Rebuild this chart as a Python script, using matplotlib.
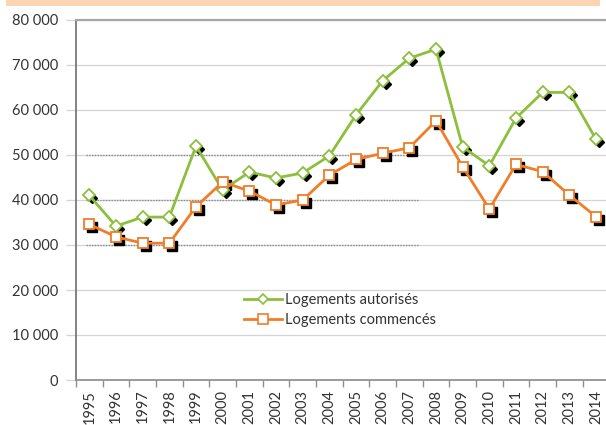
import numpy as np
import matplotlib.pyplot as plt
import matplotlib.transforms as mtransforms
from matplotlib.patches import Rectangle

years = [str(y) for y in range(1995, 2015)]
autorises = [41000, 34200, 36200, 36200, 52000, 42200, 46200, 44900, 46000, 49800,
             58900, 66500, 71500, 73500, 51800, 47600, 58200, 63900, 63900, 53500]
commences = [34600, 31800, 30400, 30400, 38500, 44000, 42000, 38900, 40000, 45500,
             49000, 50400, 51600, 57600, 47400, 38000, 47900, 46300, 41100, 36300]
yticks = [0, 10000, 20000, 30000, 40000, 50000, 60000, 70000, 80000]

green = '#8cbf3c'
orange = '#f07d28'
plt.rcParams['font.family'] = ['Lato', 'DejaVu Sans']

fig = plt.figure(figsize=(6.06, 4.25), dpi=100)
fig.patches.append(Rectangle((6 / 606, 1 - 6 / 425), 594 / 606, 6 / 425,
                             transform=fig.transFigure, facecolor='#fcd6b3',
                             edgecolor='none'))
ax = fig.add_axes([76 / 606, 45 / 425, 533.3 / 606, 360 / 425])

x = np.arange(len(years))

# light gridlines + darker dotted pieces seen in the scan
for v in yticks[1:]:
    ax.axhline(v, color='#d4d4d4', lw=0.9, zorder=0)
for v in [30000, 40000, 50000]:
    ax.axhline(v, xmin=0.019, xmax=0.641, color='#8a8a8a', lw=1.0, ls=(0, (1, 1)), zorder=0.5)

# drop shadows of markers
shadow = mtransforms.offset_copy(ax.transData, fig=fig, x=3, y=-3, units='dots')
ax.plot(x, autorises, ls='none', marker='D', ms=5, color='black', transform=shadow, zorder=2)
ax.plot(x, commences, ls='none', marker='s', ms=6.5, color='black', transform=shadow, zorder=2)

ax.plot(x, autorises, color=green, lw=2, marker='D', ms=6, mfc='white', mec=green,
        mew=1.3, zorder=3)
ax.plot(x, commences, color=orange, lw=2, marker='s', ms=7, mfc='white', mec=orange,
        mew=1.3, zorder=4)

ax.set_xlim(-0.5, len(years) - 0.5)
ax.set_ylim(0, 80000)
ax.set_yticks(yticks)
ax.set_yticklabels(['{:,}'.format(v).replace(',', ' ') for v in yticks])
ax.set_xticks(x)
ax.set_xticklabels(years, rotation=90)
ax.set_xticks(np.arange(-0.5, len(years)), minor=True)
ax.tick_params(axis='x', which='major', length=0, pad=7, labelsize=10.5, labelcolor='#333333')
ax.tick_params(axis='x', which='minor', length=5, color='#909090', width=1)
ax.tick_params(axis='y', length=7, color='#d4d4d4', width=0.9, pad=6,
               labelsize=10.5, labelcolor='#333333')

ax.spines['right'].set_visible(False)
ax.spines['left'].set_color('#6e6e6e')
ax.spines['left'].set_linewidth(1.2)
ax.spines['bottom'].set_color('#8a8a8a')
ax.spines['bottom'].set_linewidth(1.2)
ax.spines['top'].set_color('#a8a8a8')
ax.spines['top'].set_linewidth(1.6)

h1, = ax.plot([], [], color=green, lw=2, marker='D', ms=5.5, mfc='white', mec=green, mew=1.2)
h2, = ax.plot([], [], color=orange, lw=2, marker='s', ms=6.5, mfc='white', mec=orange, mew=1.2)
ax.legend([h1, h2], ['Logements autorisés', 'Logements commencés'],
          loc='upper left', bbox_to_anchor=((238 - 76) / 533.3, (380 - 287) / 360),
          frameon=False, fontsize=10.5, handlelength=2.6, handletextpad=0.2,
          labelspacing=0.45, borderaxespad=0, labelcolor='#333333')

fig.savefig('out.png', dpi=100)
